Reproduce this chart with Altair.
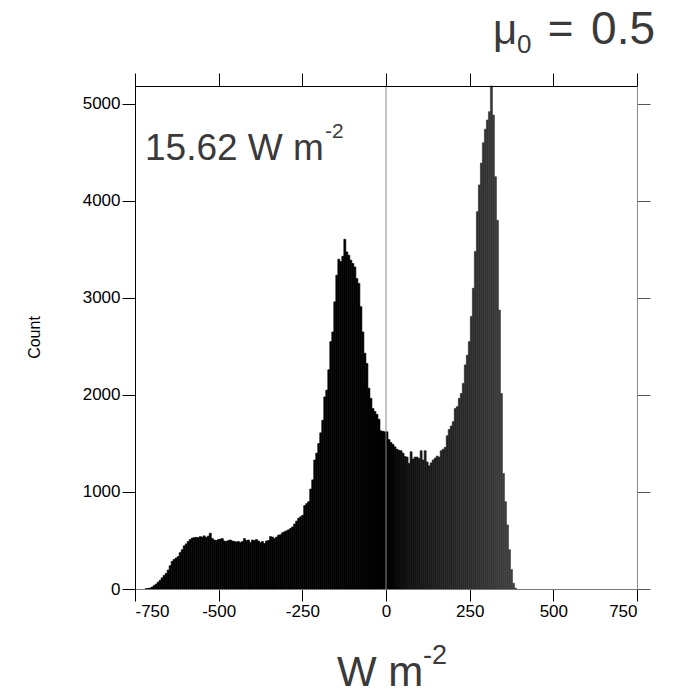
import altair as alt
import pandas as pd

# bin lower edges (W m^-2), 6 W m^-2 wide
bin_lo = list(range(-720, 390, 6))

counts = [
    3, 5, 10, 20, 35, 50, 70, 90, 115, 140,
    160, 195, 240, 285, 305, 320, 335, 375, 405, 445,
    465, 490, 510, 525, 530, 532, 530, 540, 535, 548,
    530, 545, 575, 520, 505, 500, 510, 515, 520, 495,
    490, 500, 505, 495, 490, 485,
    490, 480, 490, 520, 500, 505, 480, 505, 500, 510,
    495, 480, 490, 470, 495, 500, 540, 535, 520, 535,
    555, 560, 580, 590, 600, 610, 625, 640, 670, 700,
    730, 745, 760, 860, 880, 900, 1030, 1125, 1330, 1400,
    1500, 1610, 1740, 1980, 2050, 2260, 2550, 2650, 2960, 3235,
    3400, 3375, 3430, 3605, 3475, 3440, 3390, 3355, 3320, 3200,
    3150, 2910, 2650, 2430, 2325, 2070, 1965, 1860, 1830, 1800,
    1750, 1630, 1625, 1620,
    1620, 1540, 1510, 1490, 1465, 1440, 1430, 1425, 1400, 1365,
    1360, 1295, 1415, 1340, 1360, 1360, 1345, 1425, 1330, 1425,
    1310, 1270, 1300, 1330, 1350, 1370, 1360, 1425, 1440, 1460,
    1580, 1645, 1680, 1725, 1860, 1880, 1965, 2015, 2120, 2310,
    2410, 2550, 2810, 3100, 3480, 3890, 4165, 4390, 4600, 4740,
    4835, 4920, 5185, 4885, 4250, 3800, 2875, 2015, 1190, 900,
    660, 405, 200, 60, 10,
]

x_ticks = [-750, -500, -250, 0, 250, 500, 750]
y_ticks = [0, 1000, 2000, 3000, 4000, 5000]

df = pd.DataFrame({
    "lo": bin_lo,
    "hi": [b + 6 for b in bin_lo],
    "mid": [b + 3 for b in bin_lo],
    "count": counts,
})

FONT = "Liberation Sans"
TXT = "#3a3a3a"

xscale = alt.Scale(domain=[-750, 750], nice=False, zero=False)
yscale = alt.Scale(domain=[0, 5185], nice=False, zero=False)
colscale = alt.Scale(domain=[0, 750], range=["#000000", "#808080"], clamp=True)

bars = alt.Chart(df).mark_rect(strokeWidth=0.6).encode(
    x=alt.X("lo:Q", scale=xscale, axis=alt.Axis(
        orient="bottom", values=x_ticks, labelExpr="'' + datum.value", title=None,
        labelFont=FONT, labelFontSize=17, labelColor="black", labelPadding=2,
        tickSize=12, tickColor="black", domainColor="#777777", grid=False, zindex=1)),
    x2="hi:Q",
    y=alt.Y("count:Q", scale=yscale, axis=alt.Axis(
        orient="left", values=y_ticks, labelExpr="'' + datum.value", title=None,
        labelFont=FONT, labelFontSize=17, labelColor="black", labelPadding=2,
        tickSize=13, tickColor="black", domainColor="black", grid=False, zindex=1)),
    y2=alt.datum(0),
    fill=alt.Fill("mid:Q", scale=colscale, legend=None),
    stroke=alt.Stroke("mid:Q", scale=colscale, legend=None),
)

mirror = alt.Chart(df).mark_point(opacity=0).encode(
    x=alt.X("lo:Q", scale=xscale, axis=alt.Axis(
        orient="top", values=x_ticks, labels=False, title=None,
        tickSize=13, tickColor="black", domainColor="black", grid=False, zindex=1)),
    y=alt.Y("count:Q", scale=yscale, axis=alt.Axis(
        orient="right", values=y_ticks, labels=False, title=None,
        tickSize=13, tickColor="#555555", domainColor="#888888", grid=False, zindex=1)),
)

zero_line = alt.Chart(pd.DataFrame({"v": [0]})).mark_rule(
    color="#8a8a8a", strokeWidth=1).encode(x=alt.X("v:Q", scale=xscale, axis=None))

one = pd.DataFrame({"a": [0]})


def label(text, x, y, size, align="left", color=TXT, angle=0, baseline="alphabetic"):
    return alt.Chart(one).mark_text(
        text=text, font=FONT, fontSize=size, align=align, baseline=baseline,
        color=color, angle=angle,
    ).encode(x=alt.value(x), y=alt.value(y))


texts = [
    label("μ", 358, -41.6, 42),
    label("0", 382, -33, 26),
    label("=", 425.6, -41.6, 44, align="center"),
    label("0.5", 520, -41.6, 46, align="right"),
    label("15.62 W m", 10, 74.4, 37),
    label("-2", 190, 52, 21),
    label("W m", 202, 600, 42),
    label("-2", 288, 578, 27),
    label("Count", -100, 251.5, 16, align="center", color="black",
          angle=270, baseline="middle"),
]

chart = alt.layer(bars, mirror, zero_line, *texts).properties(
    width=502,
    height=503,
    padding={"left": 127, "top": 78, "right": 28, "bottom": 98},
    autosize=alt.AutoSizeParams(type="none"),
).configure_view(stroke=None)

chart.save("out.html", embed_options={"renderer": "svg", "actions": False})
